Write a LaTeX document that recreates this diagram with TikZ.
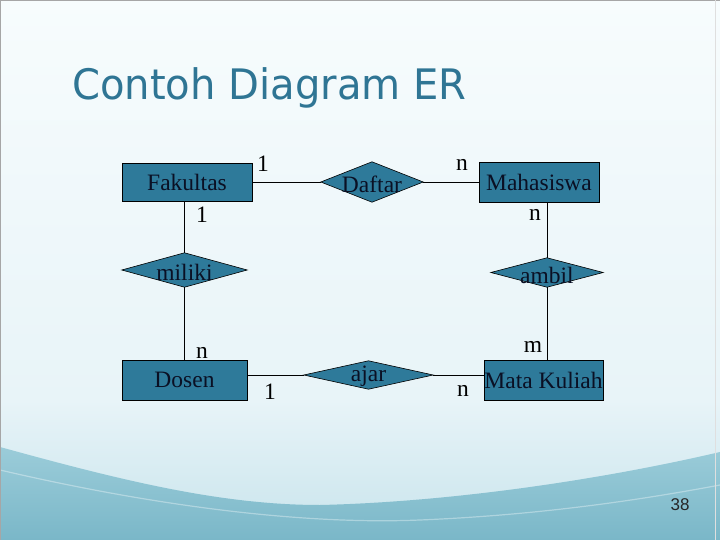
\documentclass[tikz,border=0pt]{standalone}
\usepackage{fontspec}
\setmainfont{Liberation Serif}
\newfontfamily\titlefont[FakeStretch=0.955]{DejaVu Sans}
\newfontfamily\numfont{Liberation Sans}
\definecolor{boxfill}{RGB}{46,122,154}
\definecolor{txtcol}{RGB}{10,16,36}
\definecolor{titlecol}{RGB}{47,117,148}
\definecolor{bgtop}{RGB}{247,252,253}
\definecolor{bgmid}{RGB}{232,244,248}
\definecolor{bglow}{RGB}{200,228,236}
\definecolor{wavetop}{RGB}{155,204,217}
\definecolor{wavelow}{RGB}{122,183,200}
\tikzset{
  entity/.style={draw=black, line width=0.8pt, fill=boxfill, text=txtcol, inner sep=0pt,
    font=\fontsize{23.5}{28}\selectfont},
  relation/.style={rectangle, text=txtcol, inner sep=0pt,
    font=\fontsize{23.5}{28}\selectfont},
  diamondfill/.style={draw=black, line width=0.6pt, fill=boxfill},
  card/.style={text=black, inner sep=0pt, font=\fontsize{23.5}{28}\selectfont},
  link/.style={draw=black, line width=0.8pt}
}
\newcommand{\drawdiamond}[1]{\draw[diamondfill] (#1.north) -- (#1.east) -- (#1.south) -- (#1.west) -- cycle;}
\begin{document}
\begin{tikzpicture}[x=1pt,y=-1pt]
\useasboundingbox (0,0) rectangle (720,540);
% background
\shade[top color=bgtop, bottom color=bgmid] (0,0) rectangle (720,400);
\shade[top color=bgmid, bottom color=bglow] (0,400) rectangle (720,540);
\shade[top color=wavetop, bottom color=wavelow]
  (0,447) .. controls (120,480) and (220,505) .. (320,505)
  .. controls (450,502) and (600,480) .. (720,452) -- (720,540) -- (0,540) -- cycle;
\draw[white, opacity=0.35, line width=1.2pt]
  (0,470) .. controls (150,505) and (300,525) .. (420,520)
  .. controls (540,515) and (640,500) .. (720,485);
\draw[gray!70, line width=1pt] (0,0.5) -- (720,0.5);
\draw[gray!70, line width=1pt] (0.5,0) -- (0.5,540);
\draw[gray!25, line width=1pt] (715.5,0) -- (715.5,540);
% title
\node[anchor=base west, inner sep=0pt, text=titlecol, font=\titlefont\fontsize{42}{48}\selectfont]
  (title) at (72,100) {Contoh Diagram ER};
% page number
\node[inner sep=0pt, text=black!85, font=\numfont\fontsize{17}{20}\selectfont] (page) at (680,505) {38};
% cardinality label partly hidden by Dosen box
\node[card] (c5) at (202,353) {n};
% entities
\node[entity, minimum width=130pt, minimum height=38pt] (fak) at (187,182) {Fakultas};
\node[entity, minimum width=120pt, minimum height=40pt] (mhs) at (539,182) {Mahasiswa};
\node[entity, minimum width=125pt, minimum height=40pt] (dos) at (184.5,380) {Dosen};
\node[entity, minimum width=119pt, minimum height=40pt] (mk) at (543.5,380) {Mata Kuliah};
% relationships (diamonds)
\node[relation, minimum width=102pt, minimum height=40pt] (daf) at (372,182) {};
\node[relation, minimum width=125pt, minimum height=34pt] (mil) at (184.5,270) {};
\node[relation, minimum width=112pt, minimum height=29pt] (amb) at (547,272.5) {};
\node[relation, minimum width=129pt, minimum height=28pt] (aj) at (368.5,375) {};
\drawdiamond{daf}
\drawdiamond{mil}
\drawdiamond{amb}
\drawdiamond{aj}
\node[relation] (daft) at ([yshift=-2pt]daf.center) {Daftar};
\node[relation] (milt) at ([yshift=-2pt]mil.center) {miliki};
\node[relation] (ambt) at ([yshift=-3pt]amb.center) {ambil};
\node[relation] (ajt) at ([yshift=-1pt]aj.center) {ajar};
% connectors
\draw[link] (fak.east |- daf.west) -- (daf.west);
\draw[link] (daf.east) -- (mhs.west |- daf.east);
\draw[link] (fak.south -| mil.north) -- (mil.north);
\draw[link] (mil.south) -- (dos.north -| mil.south);
\draw[link] (mhs.south -| amb.north) -- (amb.north);
\draw[link] (amb.south) -- (mk.north -| amb.south);
\draw[link] (dos.east |- aj.west) -- (aj.west);
\draw[link] (aj.east) -- (mk.west |- aj.east);
% cardinality labels
\node[card] (c1) at (263,164) {1};
\node[card] (c2) at (202,215) {1};
\node[card] (c3) at (462,165) {n};
\node[card] (c4) at (535,215) {n};
\node[card] (c6) at (533,347) {m};
\node[card] (c7) at (270,392) {1};
\node[card] (c8) at (463,391) {n};
\end{tikzpicture}
\end{document}
